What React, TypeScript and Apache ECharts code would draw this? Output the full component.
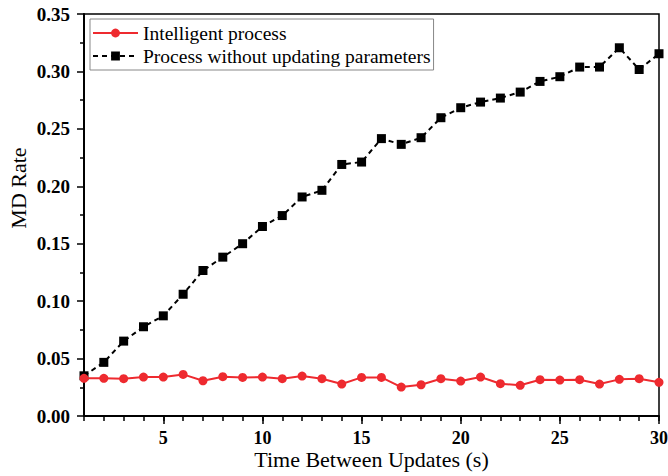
import React, { useEffect, useRef } from "react";
import * as echarts from "echarts";

const xValues = [1,2,3,4,5,6,7,8,9,10,11,12,13,14,15,16,17,18,19,20,21,22,23,24,25,26,27,28,29,30];
const intelligent = [0.0328,0.0328,0.0325,0.0339,0.0339,0.0362,0.0307,0.0342,0.0336,0.0339,0.0325,0.0348,0.0325,0.0278,0.0336,0.0336,0.0252,0.0272,0.0325,0.0304,0.0339,0.0281,0.0267,0.0316,0.0313,0.0316,0.0278,0.0319,0.0325,0.0293];
const noUpdate = [0.035,0.0467,0.0652,0.0777,0.0872,0.106,0.1267,0.1383,0.150,0.165,0.1745,0.1907,0.1965,0.219,0.2211,0.2415,0.2365,0.2423,0.2597,0.2684,0.2733,0.2768,0.282,0.2913,0.2954,0.3038,0.3038,0.3206,0.3017,0.3154];
const majorXTicks = [5,10,15,20,25,30];
const seriesNames = ["Intelligent process", "Process without updating parameters"];
const yTitle = "MD Rate";
const xTitle = "Time Between Updates (s)";

const FONT = "Liberation Serif";

export default function App() {
  const ref = useRef<HTMLDivElement>(null);
  useEffect(() => {
    if (!ref.current) return;
    const chart = echarts.init(ref.current, null, { renderer: "svg" });
    chart.setOption({
      animation: false,
      backgroundColor: "#ffffff",
      textStyle: { fontFamily: FONT },
      grid: {
        left: 84, right: 9, top: 14, bottom: 60,
        outerBoundsMode: "none",
        containLabel: false,
        show: true, borderColor: "#000", borderWidth: 1.5,
      },
      legend: {
        orient: "vertical",
        left: 90, top: 19,
        backgroundColor: "#fff",
        borderColor: "#888",
        borderWidth: 1,
        padding: [4, 3, 4, 2],
        itemGap: 3,
        itemWidth: 45,
        itemHeight: 11,
        textStyle: { fontFamily: FONT, fontSize: 19.5, color: "#000", lineHeight: 18 },
        data: seriesNames,
      },
      graphic: [
        {
          type: "text",
          x: 18, y: 188,
          rotation: Math.PI / 2,
          style: { text: yTitle, fontFamily: FONT, fontSize: 22, fill: "#000", align: "center", verticalAlign: "middle" },
        },
      ],
      xAxis: [
        {
          type: "value", min: 1, max: 30, position: "bottom",
          axisLine: { show: true, lineStyle: { color: "#000", width: 2 } },
          axisTick: { show: true, customValues: xValues, length: 5, lineStyle: { color: "#000", width: 1.5 } },
          axisLabel: { show: false },
          splitLine: { show: false },
          name: xTitle,
          nameLocation: "middle",
          nameGap: 32,
          nameTextStyle: { fontFamily: FONT, fontSize: 22, color: "#000", verticalAlign: "top" },
        },
        {
          type: "value", min: 1, max: 30, position: "bottom",
          axisLine: { show: false },
          axisTick: { show: true, customValues: majorXTicks, length: 8, lineStyle: { color: "#000", width: 1.5 } },
          axisLabel: { show: true, customValues: majorXTicks, margin: 13, fontFamily: FONT, fontSize: 18, fontWeight: "bold", color: "#000" },
          splitLine: { show: false },
        },
      ],
      yAxis: {
        type: "value", min: 0, max: 0.35, interval: 0.05,
        axisLine: { show: true, lineStyle: { color: "#000", width: 2 } },
        axisTick: { show: true, length: 7, lineStyle: { color: "#000", width: 1.5 } },
        minorTick: { show: true, splitNumber: 2, length: 4, lineStyle: { color: "#000", width: 1.5 } },
        axisLabel: {
          margin: 14, fontFamily: FONT, fontSize: 19, fontWeight: "bold", color: "#000",
          formatter: (v: number) => v.toFixed(2),
        },
        splitLine: { show: false },
      },
      series: [
        {
          name: seriesNames[0], type: "line", xAxisIndex: 0,
          data: xValues.map((x, i) => [x, intelligent[i]]),
          color: "#ee2a2f",
          symbol: "circle", symbolSize: 9,
          lineStyle: { width: 2, color: "#ee2a2f" },
          itemStyle: { color: "#ee2a2f" },
          z: 3,
        },
        {
          name: seriesNames[1], type: "line", xAxisIndex: 0,
          data: xValues.map((x, i) => [x, noUpdate[i]]),
          color: "#000",
          symbol: "rect", symbolSize: 9,
          lineStyle: { width: 2, color: "#000", type: [5, 4] },
          itemStyle: { color: "#000" },
          z: 2,
        },
      ],
    });
    return () => chart.dispose();
  }, []);
  return <div ref={ref} style={{ width: 668, height: 476, position: "absolute", left: 0, top: 0 }} />;
}
